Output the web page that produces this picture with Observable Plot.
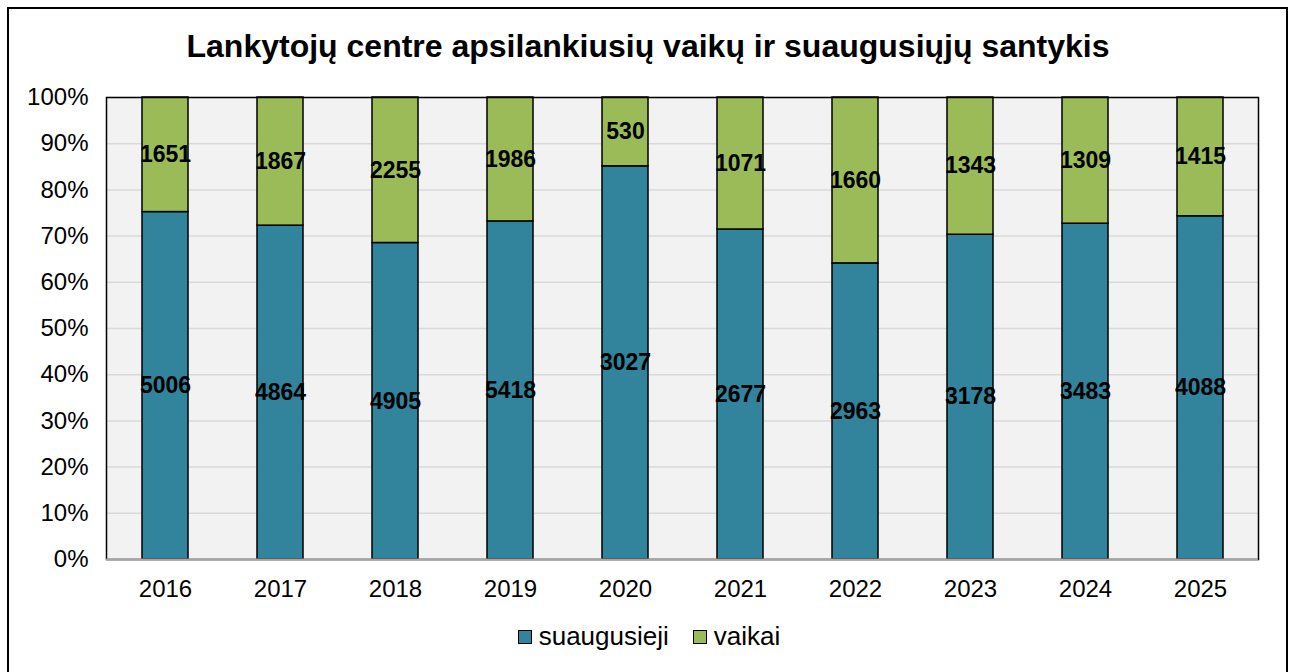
<!DOCTYPE html>
<html>
<head>
<meta charset="utf-8">
<script src="https://cdn.jsdelivr.net/npm/d3@7"></script>
<script src="https://cdn.jsdelivr.net/npm/@observablehq/plot@0.6"></script>
<style>
  html, body { margin: 0; padding: 0; background: #fff; }
  body { width: 1298px; height: 672px; position: relative; overflow: hidden; font-family: "Liberation Sans", Arial, sans-serif; }
  #frame { position: absolute; left: 7px; top: 7px; width: 1281px; height: 700px; border: 2px solid #000; box-sizing: border-box; }
  #title { position: absolute; left: 0; width: 1296px; top: 28px; text-align: center; font-weight: bold; font-size: 32px; color: #000; }
  #chart { position: absolute; left: 0; top: 0; }
  #legend { position: absolute; left: 0; width: 1298px; top: 621px; display: flex; justify-content: center; align-items: center; font-size: 26px; color: #000; }
  .item { display: flex; align-items: center; margin: 0 12px; }
  .sw { width: 12px; height: 12px; border: 1.5px solid #000; margin-right: 7px; }
</style>
</head>
<body>
<div id="frame"></div>
<div id="title">Lankytojų centre apsilankiusių vaikų ir suaugusiųjų santykis</div>
<div id="chart"></div>
<div id="legend"></div>
<script>
const years = ["2016","2017","2018","2019","2020","2021","2022","2023","2024","2025"];
const suaugusieji = [5006, 4864, 4905, 5418, 3027, 2677, 2963, 3178, 3483, 4088];
const vaikai = [1651, 1867, 2255, 1986, 530, 1071, 1660, 1343, 1309, 1415];
const seriesNames = ["suaugusieji", "vaikai"];
const seriesColors = ["#31849B", "#9BBB59"];
const yTicks = [0, 0.1, 0.2, 0.3, 0.4, 0.5, 0.6, 0.7, 0.8, 0.9, 1];

const data = [];
years.forEach((y, i) => {
  data.push({year: y, series: seriesNames[0], value: suaugusieji[i]});
  data.push({year: y, series: seriesNames[1], value: vaikai[i]});
});

const stackOpts = {x: "year", y: "value", z: "series", offset: "normalize"};

const chart = Plot.plot({
  width: 1298,
  height: 615,
  marginTop: 97,
  marginBottom: 56,
  marginLeft: 106,
  marginRight: 40,
  style: {fontFamily: "'Liberation Sans', Arial, sans-serif", background: "transparent", color: "#000", overflow: "visible"},
  x: {domain: years, paddingInner: 0.6, paddingOuter: 0.3, label: null, tickSize: 0, tickPadding: 20},
  y: {domain: [0, 1], ticks: yTicks, tickFormat: d => Math.round(d * 100) + "%", label: null, tickSize: 0, tickPadding: 18},
  color: {domain: seriesNames, range: seriesColors},
  marks: [
    Plot.frame({fill: "#f2f2f2", stroke: null}),
    Plot.gridY(yTicks, {stroke: "#d9d9d9", strokeOpacity: 1, strokeWidth: 1.5}),
    Plot.barY(data, Plot.stackY({...stackOpts, fill: "series", stroke: "#000", strokeWidth: 1.5})),
    Plot.frame({stroke: "#000", strokeWidth: 1.5, fill: null}),
    Plot.ruleY([0], {stroke: "#a6a6a6", strokeWidth: 2}),
    Plot.text(data, Plot.stackY({...stackOpts, text: d => String(d.value), fontWeight: "bold", fontSize: 23, fill: "#000"})),
    Plot.axisX({fontSize: 24, tickSize: 0, tickPadding: 20, label: null}),
    Plot.axisY({ticks: yTicks, tickFormat: d => Math.round(d * 100) + "%", fontSize: 24, tickSize: 0, tickPadding: 18, label: null})
  ]
});
document.getElementById("chart").appendChild(chart);

const legend = document.getElementById("legend");
seriesNames.forEach((name, i) => {
  const item = document.createElement("div");
  item.className = "item";
  const sw = document.createElement("div");
  sw.className = "sw";
  sw.style.background = seriesColors[i];
  const lab = document.createElement("span");
  lab.textContent = name;
  item.appendChild(sw);
  item.appendChild(lab);
  legend.appendChild(item);
});
</script>
</body>
</html>
